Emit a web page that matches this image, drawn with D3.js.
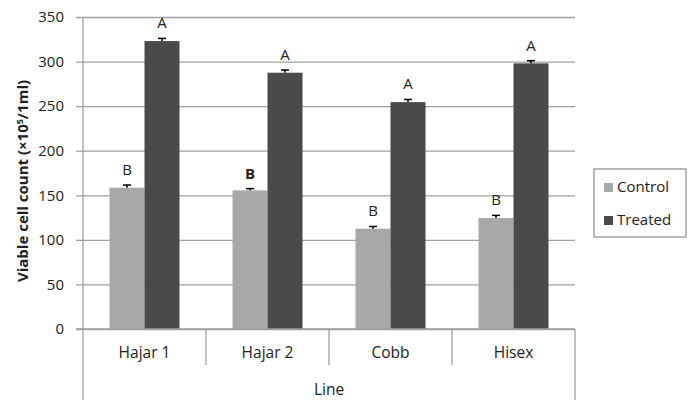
<!DOCTYPE html>
<html><head><meta charset="utf-8">
<script src="https://cdn.jsdelivr.net/npm/d3@7"></script>
<style>
body{margin:0;background:#fff;}
text{font-family:"Open Sans",sans-serif;fill:#222;}
</style></head>
<body><svg id="c" width="690" height="400"></svg>
<script>
const categories = ["Hajar 1","Hajar 2","Cobb","Hisex"];
const seriesNames = ["Control","Treated"];
const controlValues = [158.5,155.5,112.5,124.5];
const treatedValues = [323,287.5,254.5,298];
const controlErrors = [3,2,2.5,3];
const treatedErrors = [3,3,3,3];
const controlLetters = ["B","B","B","B"];
const treatedLetters = ["A","A","A","A"];
const boldLetters = [false,true,false,false];
const yTicks = [0,50,100,150,200,250,300,350];
const colors = ["#a8a8a8","#4a4a4a"];

const svg = d3.select("#c");
const L=83, R=575, T=17, B=329;
const y = d3.scaleLinear().domain([0,350]).range([B,T]);
const x0 = d3.scaleBand().domain(categories).range([L,R]).paddingInner(0).paddingOuter(0);
const bw = 35;

// gridlines
const yAxis = d3.axisLeft(y).tickValues(yTicks).tickSize(-(R-L)).tickPadding(19).tickFormat(d3.format("d"));
const ga = svg.append("g").attr("transform",`translate(${L},0)`).call(yAxis);
ga.select(".domain").remove();
ga.selectAll(".tick line").attr("stroke","#a0a0a0").attr("stroke-width",1.3).attr("x1",-7);
ga.selectAll(".tick text").style("font-size","15px").style("font-family","Open Sans").attr("fill","#222");
svg.append("line").attr("x1",L).attr("x2",L).attr("y1",T).attr("y2",400).attr("stroke","#a0a0a0").attr("stroke-width",1.3);
svg.append("line").attr("x1",R).attr("x2",R).attr("y1",B).attr("y2",400).attr("stroke","#a0a0a0").attr("stroke-width",1.3);
// category separators
categories.slice(1).forEach(c=>{
  svg.append("line").attr("x1",x0(c)).attr("x2",x0(c)).attr("y1",B).attr("y2",365).attr("stroke","#a0a0a0").attr("stroke-width",1.3);
});

const data = categories.map((c,i)=>[
  {c, s:0, v:controlValues[i], e:controlErrors[i], l:controlLetters[i], b:boldLetters[i]},
  {c, s:1, v:treatedValues[i], e:treatedErrors[i], l:treatedLetters[i], b:false}
]).flat();
const bx = d => x0(d.c)+x0.bandwidth()/2 + (d.s===0 ? -bw : 0);

svg.append("g").selectAll("rect").data(data).join("rect")
  .attr("x",d=>bx(d)).attr("width",bw)
  .attr("y",d=>y(d.v)).attr("height",d=>y(0)-y(d.v))
  .attr("fill",d=>colors[d.s]);
// axis line over bars
svg.append("line").attr("x1",L-7).attr("x2",R).attr("y1",B).attr("y2",B).attr("stroke","#a0a0a0").attr("stroke-width",1.3);

// error bars
const eg = svg.append("g").attr("stroke","#000").attr("stroke-width",1.5);
data.forEach(d=>{
  const cx = bx(d)+bw/2;
  eg.append("line").attr("x1",cx).attr("x2",cx).attr("y1",y(d.v)).attr("y2",y(d.v+d.e));
  eg.append("line").attr("x1",cx-4).attr("x2",cx+4).attr("y1",y(d.v+d.e)).attr("y2",y(d.v+d.e));
});
// letters
svg.append("g").selectAll("text").data(data).join("text")
  .attr("x",d=>bx(d)+bw/2).attr("y",d=>y(d.v+d.e)-10)
  .attr("text-anchor","middle").style("font-size","15px")
  .style("font-weight",d=>d.b?"bold":"normal").text(d=>d.l);

// category labels
svg.append("g").selectAll("text").data(categories).join("text")
  .attr("x",d=>x0(d)+x0.bandwidth()/2).attr("y",358).attr("text-anchor","middle")
  .style("font-size","15.5px").text(d=>d);
svg.append("text").attr("x",(L+R)/2).attr("y",395).attr("text-anchor","middle").style("font-size","15.5px").text("Line");

// y title
const yt = svg.append("text").attr("transform","translate(28,181) rotate(-90)").attr("text-anchor","middle")
  .style("font-size","15px").style("font-weight","bold");
yt.append("tspan").text("Viable cell count (×10");
yt.append("tspan").attr("dy",-5).style("font-size","9px").text("5");
yt.append("tspan").attr("dy",5).text("/1ml)");

// legend
svg.append("rect").attr("x",594).attr("y",169).attr("width",92).attr("height",68).attr("fill","#fff").attr("stroke","#8a8a8a").attr("stroke-width",1.2);
seriesNames.forEach((s,i)=>{
  const cy = 187 + i*33;
  svg.append("rect").attr("x",604).attr("y",cy-4).attr("width",9).attr("height",9).attr("fill",colors[i]);
  svg.append("text").attr("x",617).attr("y",cy+5).style("font-size","15px").text(s);
});
</script></body></html>
